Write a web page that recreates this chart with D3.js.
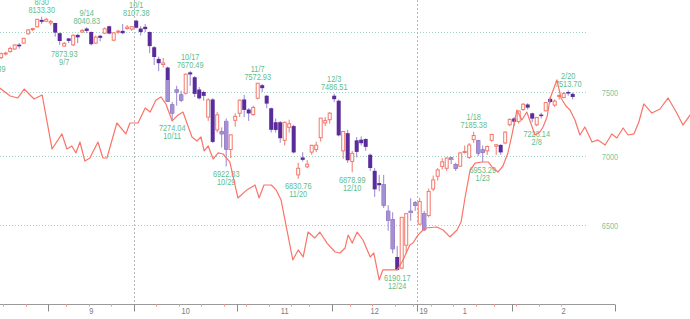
<!DOCTYPE html>
<html>
<head>
<meta charset="utf-8">
<script src="https://cdnjs.cloudflare.com/ajax/libs/d3/7.8.5/d3.min.js"></script>
<style>
html, body { margin: 0; padding: 0; background: #fff; }
svg { display: block; }
text { font-family: "Liberation Sans", Arial, sans-serif; font-size: 9px; }
</style>
</head>
<body>
<svg id="chart" width="690" height="319"></svg>
<script>
// trading days shown (8/15 and 8/16 sit just off the left edge)
const dates = ['8/15','8/16','8/17','8/20','8/21','8/22','8/23','8/24','8/27','8/28','8/29','8/30','8/31',
  '9/4','9/5','9/6','9/7','9/10','9/11','9/12','9/13','9/14','9/17','9/18','9/19','9/20','9/21','9/24','9/25','9/26','9/27','9/28',
  '10/1','10/2','10/3','10/4','10/5','10/8','10/9','10/10','10/11','10/12','10/15','10/16','10/17','10/18','10/19','10/22','10/23','10/24','10/25','10/26','10/29','10/30','10/31',
  '11/1','11/2','11/5','11/6','11/7','11/8','11/9','11/12','11/13','11/14','11/15','11/16','11/19','11/20','11/21','11/23','11/26','11/27','11/28','11/29','11/30',
  '12/3','12/4','12/6','12/7','12/10','12/11','12/12','12/13','12/14','12/17','12/18','12/19','12/20','12/21','12/24','12/26','12/27','12/28','12/31',
  '1/2','1/3','1/4','1/7','1/8','1/9','1/10','1/11','1/14','1/15','1/16','1/17','1/18','1/22','1/23','1/24','1/25','1/28','1/29','1/30','1/31',
  '2/1','2/4','2/5','2/6','2/7','2/8','2/11','2/12','2/13','2/14','2/15','2/19','2/20','2/21'];

const opens = [7790,7800,7783,7815,7833,7855,7892,7905,7985,8025,8045,8105,8093,
  8078,8078,7990,7880,7945,7890,7975,8000,8030,8000,7905,7968,7990,8050,7930,8000,8010,8030,8025,
  8098,8030,8045,8000,7870,7772,7725,7700,7400,7520,7480,7490,7660,7620,7520,7500,7300,7440,7200,7190,7270,7050,7275,
  7330,7440,7360,7320,7450,7555,7470,7370,7260,7260,7120,7220,7230,6860,6990,6920,7030,7050,7140,7255,7280,
  7470,7430,7040,7175,6960,7120,7125,7130,7010,6890,6800,6790,6600,6540,6280,6205,6360,6600,6660,
  6506,6584,6567,6757,6850,6923,6909,6990,6940,6925,7028,6990,7125,7120,7050,7040,7120,7075,7085,7100,7240,
  7290,7265,7360,7400,7330,7240,7320,7350,7445,7395,7468,7455,7500,7485];
const highs = [7800,7830,7826,7832,7875,7895,7905,7950,8025,8035,8115,8133.30,8124,
  8105,8080,7995,7915,7950,7980,7985,8025,8040.83,8005,7970,7975,8040,8055,7998,8020,8070,8060,8050,
  8107.38,8050,8070,8005,7880,7790,7780,7708,7420,7550,7510,7650,7670.49,7630,7540,7510,7450,7450,7340,7220,7290,7165,7330,
  7440,7476,7370,7390,7572.93,7565,7475,7375,7290,7270,7265,7280,7240,6950,7030,6970,7085,7110,7292,7300,7340,
  7486.51,7440,7190,7200,7040,7145,7150,7135,7020,6910,6860,6860,6640,6590,6355,6555,6585,6690,6670,
  6693,6600,6760,6855,6910,6985,6990,6995,6950,7030,7080,7100,7185.38,7125,7080,7080,7170,7090,7090,7190,7290,
  7300,7350,7410,7410,7335,7300,7335,7420,7460,7440,7480,7500,7513.70,7495];
const lows = [7750.39,7790,7770,7800,7825,7848,7858,7900,7978,8008,8040,8068,8085,
  8060,7960,7890,7873.93,7905,7880,7905,7995,7990,7885,7900,7920,7985,7980,7920,7985,7980,8020,8010,
  8030,7970,8000,7820,7721,7670,7700,7421,7274.04,7390,7420,7480,7550,7460,7440,7430,7270,7100,7180,7065,6922.83,6985,7225,
  7300,7300,7270,7310,7440,7500,7370,7180,7180,7100,7080,7180,7020,6830.76,6960,6910,7010,7030,7110,7230,7250,
  7420,7150,6980,6950,6878.99,6990,7080,7040,6890,6700,6740,6620,6460,6305,6190.17,6197,6304,6530,6600,
  6500,6457,6554,6741,6818,6900,6890,6940,6890,6920,7020,6980,7100,7000,6953.29,7010,7110,7010,7010,7090,7230,
  7230,7250,7350,7360,7260,7228.14,7290,7345,7410,7380,7440,7450,7470,7440];
const closes = [7774,7806,7816,7821,7859,7889,7878,7946,8018,8030,8110,8088,8110,
  8091,7995,7923,7903,7924,7972,7954,8014,8010,7896,7956,7950,8028,7987,7993,8007,7990,8042,8046,
  8037,8000,8025,7880,7788,7736,7738,7422,7329,7497,7431,7645,7643,7485,7449,7469,7437,7108,7318,7167,7050,7162,7306,
  7434,7357,7329,7376,7571,7531,7407,7201,7200,7136,7259,7248,7028,6909,6972,6939,7082,7083,7292,7273,7331,
  7442,7158,7188,6969,7021,7032,7098,7070,6911,6754,6784,6637,6528,6333,6193,6554,6580,6585,6635,
  6666,6464,6739,6823,6897,6957,6986,6971,6906,7024,7035,7084,7157,7020,7026,7073,7165,7086,7028,7183,7282,
  7264,7348,7402,7375,7288,7298,7308,7415,7420,7427,7472,7487,7489,7460];

// falling bodies drawn in the paler purple: [date, top of the pale part]
const paleBodies = [['10/10',7597],['10/11',7400],['10/12',7520],['10/15',7480],['10/26',7190],['10/29',7270],
  ['12/19',6790],['12/20',6600],['12/21',6540],['12/28',6600],['12/31',6660],['1/3',6584],['1/11',6990],
  ['1/14',6940],['1/22',7120],['1/23',7050]];

const highMarks = [['8/30',8133.30],['9/14',8040.83],['10/1',8107.38],['10/17',7670.49],['11/7',7572.93],
  ['12/3',7486.51],['1/18',7185.38],['2/20',7513.70]];
const lowMarks = [['8/15',7750.39],['9/7',7873.93],['10/11',7274.04],['10/29',6922.83],['11/20',6830.76],
  ['12/10',6878.99],['12/24',6190.17],['1/23',6953.29],['2/8',7228.14]];

// comparison line: position in day slots, value on the price scale
const lineSlots = [1.7,4.0,5.7,7.1,9.3,11.1,13.3,15.5,16.6,17.7,18.6,19.5,20.6,21.7,23.5,24.6,25.5,27.7,29.7,30.6,
  32.4,34.0,35.1,36.4,37.5,38.6,40.0,41.3,42.4,43.5,44.4,45.5,46.4,47.1,48.0,49.1,50.2,51.3,52.8,54.6,
  56.6,58.4,59.3,60.4,62.0,63.1,64.2,66.8,68.0,69.1,70.2,71.7,72.8,74.4,76.2,77.3,78.4,79.1,80.0,81.1,
  82.4,84.0,84.8,86.0,86.8,90.0,91.3,92.8,93.5,94.6,96.2,98.8,100.2,101.7,103.3,104.2,105.1,106.2,107.3,108.8,
  110.2,111.3,112.4,113.5,114.6,115.5,116.6,117.7,118.8,120.0,120.6,121.7,122.4,123.3,124.0,125.5,126.4,127.5,128.4,129.5,
  130.6,131.7,133.3,134.6,136.2,137.7,138.8,140.2,141.3,142.6,143.7,144.8,146.6,148.4,150.2,152.0,153.5,155.1];
const lineValues = [7532,7468,7452,7524,7444,7476,7054,7169,7054,7077,7024,7107,6963,6986,7107,6986,6986,7254,7169,7254,
  7254,7372,7340,7436,7460,7404,7270,7317,7340,7231,7146,7115,7146,7039,7077,6978,7024,7016,6956,6692,
  6750,6786,6692,6786,6786,6750,6677,6260,6328,6280,6451,6410,6451,6375,6314,6307,6341,6430,6375,6451,
  6396,6280,6307,6127,6193,6193,6260,6362,6375,6430,6479,6486,6465,6417,6465,6521,6699,6896,6948,6956,
  6956,6911,6881,6926,7024,7161,7356,7277,7340,7223,7161,7184,7223,7301,7452,7598,7452,7388,7356,7277,
  7161,7223,7107,7123,7084,7169,7138,7215,7161,7169,7262,7404,7332,7364,7452,7340,7238,7317];

const gridLevels = [8000, 7500, 7000, 6500];
const priceLabels = [7500, 7000, 6500];
const monthStarts = ['9/4','10/1','11/1','12/3','1/2','2/1'];
const monthNames = ['9','10','11','12','1','2'];
const yearStart = ['1/2', '19'];
const quarterStarts = ['10/1','1/2'];
const weekStarts = ['8/20','8/27','9/10','9/17','9/24','10/8','10/15','10/22','10/29','11/5','11/12','11/19','11/26',
  '12/10','12/17','12/24','12/31','1/7','1/14','1/22','1/28','2/4','2/11','2/19'];

const svg = d3.select('#chart');
const plotRight = 615, gridRight = 588, axisY = 304.5;
const upColor = '#f4786b', downColor = '#5a2b9b', paleColor = '#a48fd2', wickDown = '#9886cc';
const markColor = '#5fbd8a', gridColor = '#9cd5c4';

const idx = new Map(dates.map((d, i) => [d, i]));
const x = d3.scaleLinear().domain([0, dates.length - 1]).range([-7.8, 572.7]);
const slot = x(1) - x(0);
const y = d3.scaleLog().domain([6500, 7500]).range([225, 92]);
const edge = d => x(idx.get(d)) - slot / 2;

// horizontal dotted grid
svg.append('g').selectAll('line').data(gridLevels).join('line')
  .attr('x1', 0).attr('x2', gridRight)
  .attr('y1', d => Math.round(y(d)) + 0.5).attr('y2', d => Math.round(y(d)) + 0.5)
  .attr('stroke', gridColor).attr('stroke-dasharray', '1,2');

// quarter separators
svg.append('g').selectAll('line').data(quarterStarts).join('line')
  .attr('x1', d => Math.round(edge(d)) + 0.5).attr('x2', d => Math.round(edge(d)) + 0.5)
  .attr('y1', 0).attr('y2', axisY)
  .attr('stroke', '#b8b8b8').attr('stroke-dasharray', '2,2');

// price labels on the right
svg.append('g').selectAll('text').data(priceLabels).join('text')
  .attr('transform', d => `translate(610,${y(d) + 3.5}) scale(0.82,1)`)
  .attr('text-anchor', 'middle').attr('fill', '#7cc8a6')
  .text(d => d);

// swing high / low marks
const fmt = d3.format('.2f');
const marks = svg.append('g').attr('fill', markColor).attr('text-anchor', 'middle');
highMarks.forEach(([d, v]) => {
  const cx = x(idx.get(d)), cy = y(v);
  marks.append('text').attr('transform', `translate(${cx},${cy - 3.5}) scale(0.82,1)`).text(fmt(v));
  marks.append('text').attr('transform', `translate(${cx},${cy - 11.5}) scale(0.82,1)`).text(d);
});
lowMarks.forEach(([d, v]) => {
  const cx = x(idx.get(d)), cy = y(v);
  marks.append('text').attr('transform', `translate(${cx},${cy + 10.5}) scale(0.82,1)`).text(fmt(v));
  marks.append('text').attr('transform', `translate(${cx},${cy + 18.5}) scale(0.82,1)`).text(d);
});

// candles
const candles = dates.map((d, i) => ({ d, i, o: opens[i], h: highs[i], l: lows[i], c: closes[i] }));
const cg = svg.append('g');
cg.selectAll('line.wick').data(candles).join('line').attr('class', 'wick')
  .attr('x1', d => x(d.i)).attr('x2', d => x(d.i))
  .attr('y1', d => y(d.h)).attr('y2', d => y(d.l))
  .attr('stroke', d => d.c >= d.o ? upColor : wickDown).attr('stroke-width', 1);

const ups = candles.filter(d => d.c >= d.o);
const downs = candles.filter(d => d.c < d.o);
cg.selectAll('rect.up').data(ups).join('rect').attr('class', 'up')
  .attr('x', d => x(d.i) - 1.5).attr('width', 3)
  .attr('y', d => y(d.c)).attr('height', d => Math.max(1, y(d.o) - y(d.c)))
  .attr('fill', '#fff').attr('stroke', upColor).attr('stroke-width', 1);
cg.selectAll('rect.down').data(downs).join('rect').attr('class', 'down')
  .attr('x', d => x(d.i) - 2).attr('width', 4)
  .attr('y', d => y(d.o)).attr('height', d => Math.max(1.5, y(d.c) - y(d.o)))
  .attr('fill', downColor);
cg.selectAll('rect.pale').data(paleBodies).join('rect').attr('class', 'pale')
  .attr('x', d => x(idx.get(d[0])) - 2).attr('width', 4)
  .attr('y', d => y(Math.min(d[1], opens[idx.get(d[0])])))
  .attr('height', d => Math.max(1.5, y(closes[idx.get(d[0])]) - y(Math.min(d[1], opens[idx.get(d[0])]))))
  .attr('fill', paleColor);

// comparison line
const linePts = lineSlots.map((s, i) => [s, lineValues[i]]);
svg.append('path').datum(linePts)
  .attr('d', d3.line().x(d => x(d[0])).y(d => y(d[1])))
  .attr('fill', 'none').attr('stroke', '#fa7468').attr('stroke-width', 1.2)
  .attr('stroke-linejoin', 'round');

// time axis
const axis = svg.append('g');
axis.append('line').attr('x1', 0).attr('x2', plotRight).attr('y1', axisY).attr('y2', axisY)
  .attr('stroke', '#9a9a9a');
const bounds = monthStarts.map(edge).concat([plotRight]);
axis.selectAll('line.tick').data(bounds).join('line').attr('class', 'tick')
  .attr('x1', d => Math.round(d) + 0.5).attr('x2', d => Math.round(d) + 0.5)
  .attr('y1', axisY).attr('y2', axisY + 7).attr('stroke', '#8a8a8a');
axis.selectAll('line.week').data(weekStarts).join('line').attr('class', 'week')
  .attr('x1', d => Math.round(edge(d)) + 0.5).attr('x2', d => Math.round(edge(d)) + 0.5)
  .attr('y1', axisY - 0.5).attr('y2', axisY + 2).attr('stroke', '#f3918a');
axis.selectAll('text.month').data(monthNames).join('text').attr('class', 'month')
  .attr('transform', (d, i) => `translate(${(bounds[i] + bounds[i + 1]) / 2},${axisY + 9.5}) scale(0.82,1)`)
  .attr('text-anchor', 'middle').attr('fill', '#7a7a7a').text(d => d);
axis.append('text')
  .attr('transform', `translate(${edge(yearStart[0]) + 2},${axisY + 9.5}) scale(0.82,1)`)
  .attr('fill', '#7a7a7a').text(yearStart[1]);
</script>
</body>
</html>
